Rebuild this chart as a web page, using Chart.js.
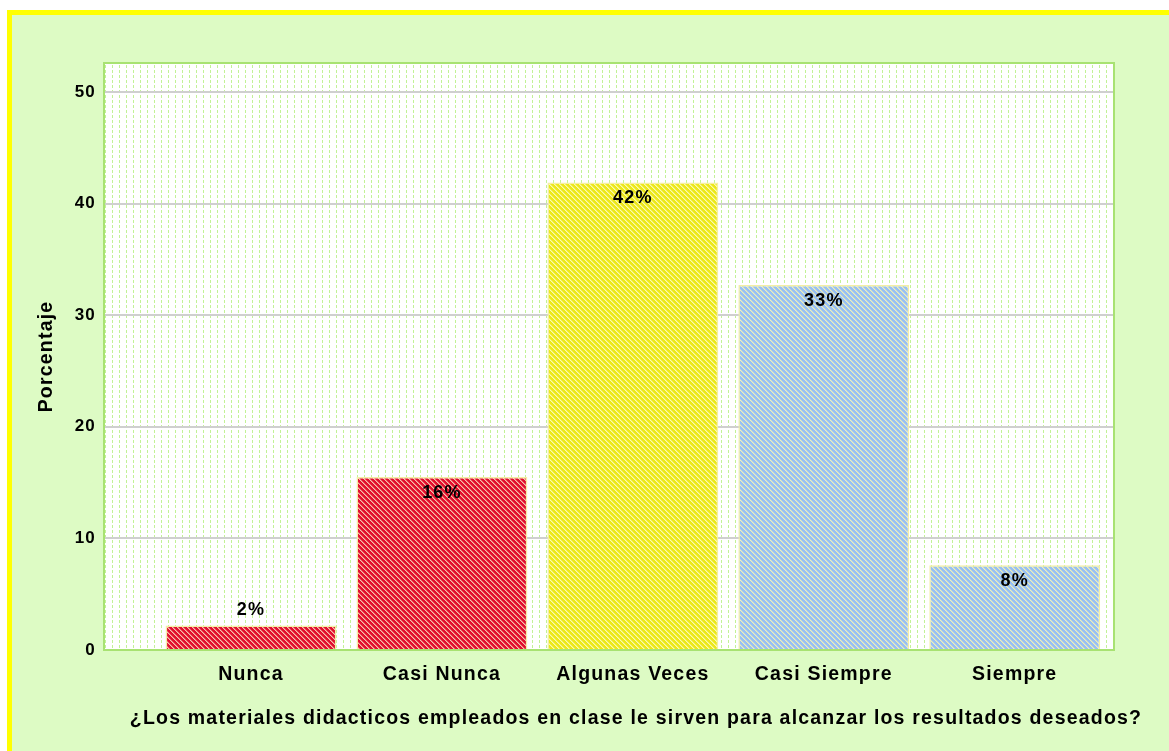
<!DOCTYPE html>
<html>
<head>
<meta charset="utf-8">
<script src="https://cdn.jsdelivr.net/npm/chart.js@4"></script>
<style>
  html, body { margin: 0; padding: 0; background: #ffffff; }
  #marco {
    position: absolute; left: 7px; top: 10px; width: 1157px; height: 736px;
    border-left: 5px solid #ffff00; border-top: 5px solid #ffff00;
    background: #ddfbc4;
  }
  #grafica { position: absolute; left: 0; top: 0; }
</style>
</head>
<body>
<div id="marco"></div>
<canvas id="grafica" width="1169" height="751"></canvas>
<script>
// Datos
const categorias = ['Nunca', 'Casi Nunca', 'Algunas Veces', 'Casi Siempre', 'Siempre'];
const porcentajes = [2.2, 15.5, 41.9, 32.7, 7.6];
const etiquetas = ['2%', '16%', '42%', '33%', '8%'];
const ticksY = [0, 10, 20, 30, 40, 50];
const tituloX = '¿Los materiales didacticos empleados en clase le sirven para alcanzar los resultados deseados?';

const fuente = '"Liberation Sans", Arial, sans-serif';
const espaciado = '1.2px';

// Rayado diagonal (pixel a pixel) para las barras
function rayado(base, raya, medio) {
    const c = document.createElement('canvas');
    c.width = 5; c.height = 5;
    const g = c.getContext('2d');
    g.fillStyle = base;
    g.fillRect(0, 0, 5, 5);
    for (let y = 0; y < 5; y++) {
        g.fillStyle = raya;
        g.fillRect(y, y, 1, 1);
        g.fillStyle = medio;
        g.fillRect((y + 1) % 5, y, 1, 1);
    }
    return g.createPattern(c, 'repeat');
}

// Fondo punteado del area de trazado
function punteado() {
    const c = document.createElement('canvas');
    c.width = 7; c.height = 5;
    const g = c.getContext('2d');
    g.fillStyle = '#ffffff';
    g.fillRect(0, 0, 7, 5);
    g.fillStyle = '#c2f296';
    g.fillRect(0, 0, 1, 3);
    return g.createPattern(c, 'repeat');
}

const rojo = rayado('#e2102e', '#f6c2ae', '#ec6a6a');
const amarillo = rayado('#ece81a', '#fafab0', '#f2f066');
const azul = rayado('#98c0f4', '#eef0b8', '#c4d8d6');
const colores = [rojo, rojo, amarillo, azul, azul];

const plugEstilo = {
    id: 'estilo',
    beforeLayout(chart) { chart.ctx.letterSpacing = espaciado; },
    beforeDraw(chart) {
        const { ctx, chartArea: a } = chart;
        ctx.letterSpacing = espaciado;
        ctx.save();
        ctx.fillStyle = punteado();
        ctx.fillRect(a.left, a.top, a.right - a.left, a.bottom - a.top);
        ctx.restore();
    },
    afterDatasetsDraw(chart) {
        const { ctx, chartArea: a } = chart;
        const meta = chart.getDatasetMeta(0);
        ctx.save();
        ctx.letterSpacing = espaciado;
        ctx.font = 'bold 18px ' + fuente;
        ctx.fillStyle = '#000000';
        ctx.textAlign = 'center';
        ctx.textBaseline = 'middle';
        meta.data.forEach((barra, i) => {
            const alto = barra.base - barra.y;
            const y = alto < 30 ? barra.y - 15 : barra.y + 16;
            ctx.fillText(etiquetas[i], barra.x, y);
        });
        // borde verde del area
        ctx.strokeStyle = '#a8e272';
        ctx.lineWidth = 2;
        ctx.strokeRect(a.left, a.top, a.right - a.left, a.bottom - a.top);
        ctx.restore();
    },
    afterDraw(chart) {
        const ctx = chart.ctx;
        ctx.save();
        ctx.letterSpacing = espaciado;
        ctx.font = 'bold 19.5px ' + fuente;
        ctx.fillStyle = '#000000';
        ctx.textAlign = 'center';
        ctx.textBaseline = 'middle';
        ctx.fillText(tituloX, 636, 719);
        ctx.restore();
    }
};

const ctx = document.getElementById('grafica').getContext('2d');
const chart = new Chart(ctx, {
    type: 'bar',
    data: {
        datasets: [{
            data: categorias.map((c, i) => ({ x: i + 1, y: porcentajes[i] })),
            backgroundColor: colores,
            borderColor: '#f4efa4',
            borderWidth: 1.5,
            barPercentage: 0.895,
            categoryPercentage: 1
        }]
    },
    options: {
        responsive: false,
        animation: false,
        layout: { padding: { left: 0, top: 63, right: 55, bottom: 0 } },
        plugins: {
            legend: { display: false },
            tooltip: { enabled: false }
        },
        scales: {
            x: {
                type: 'linear',
                offset: false,
                min: 0.23,
                max: 5.52,
                afterBuildTicks(scale) {
                    scale.ticks = categorias.map((c, i) => ({ value: i + 1 }));
                },
                afterFit(scale) { scale.height = 101; },
                grid: { display: false, drawTicks: false },
                border: { color: '#a8e272', width: 2 },
                ticks: {
                    autoSkip: false,
                    maxRotation: 0,
                    padding: 13,
                    color: '#000000',
                    font: { family: fuente, size: 19.5, weight: 'bold' },
                    callback: (v) => categorias[v - 1]
                }
            },
            y: {
                min: 0,
                max: 52.6,
                afterBuildTicks(scale) {
                    scale.ticks = ticksY.map(v => ({ value: v }));
                },
                afterFit(scale) { scale.width = 104; },
                grid: {
                    drawTicks: false,
                    lineWidth: 2,
                    color: (c) => c.tick && c.tick.value === 0 ? 'rgba(0,0,0,0)' : '#cfcfcf'
                },
                border: { color: '#a8e272', width: 2 },
                ticks: {
                    padding: 8,
                    color: '#000000',
                    font: { family: fuente, size: 17, weight: 'bold' }
                },
                title: {
                    display: true,
                    text: 'Porcentaje',
                    color: '#000000',
                    padding: { top: 35, bottom: 0 },
                    font: { family: fuente, size: 19.5, weight: 'bold' }
                }
            }
        }
    },
    plugins: [plugEstilo]
});
</script>
</body>
</html>
